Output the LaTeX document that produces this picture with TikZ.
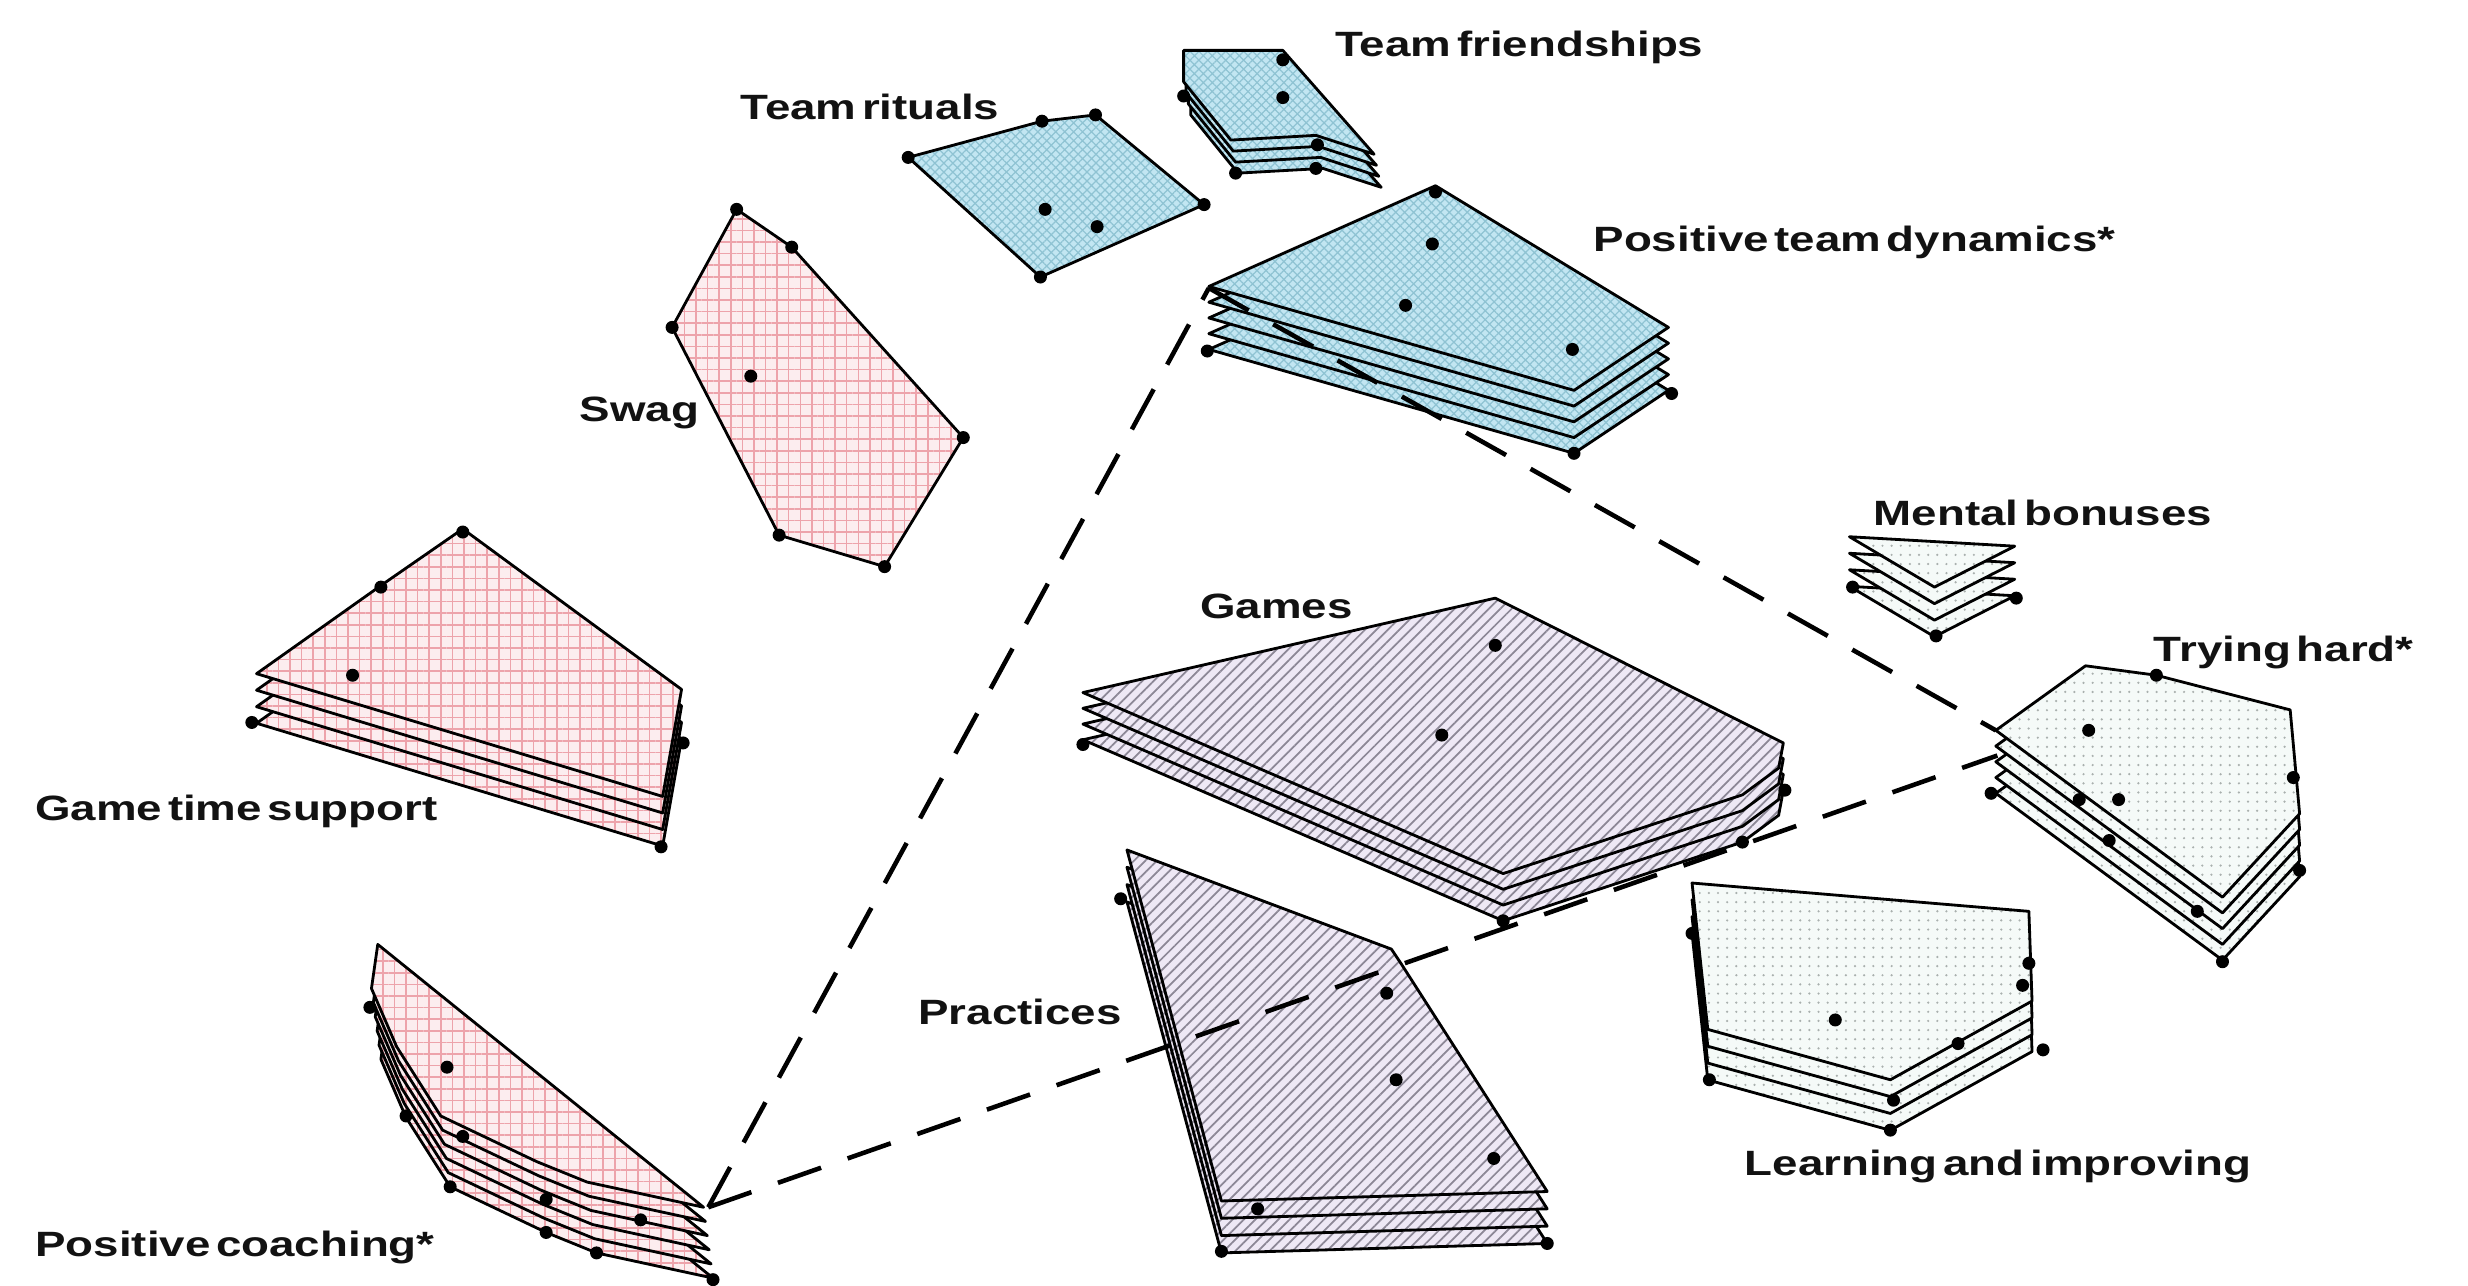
\documentclass[tikz,border=0pt]{standalone}
\usepackage{fontspec}
\newfontfamily\lblfont{Liberation Sans}[FakeStretch=1.3,WordSpace=0.45]
\usetikzlibrary{patterns.meta}
\definecolor{pinkbg}{HTML}{FCEDEF}
\definecolor{pinkln}{HTML}{EDA3AB}
\definecolor{bluebg}{HTML}{C2E6F2}
\definecolor{blueln}{HTML}{8FC3D3}
\definecolor{purpbg}{HTML}{EEE8F5}
\definecolor{purpln}{HTML}{8C8796}
\definecolor{greenbg}{HTML}{F5FAF8}
\definecolor{greenln}{HTML}{A9B0AE}
\newcommand\layerstack[5]{%
  \foreach \k in {#1,...,0}{\path[#4, shift={(\k*#2,\k*#3)}] #5 -- cycle;}}
\newcommand\clusterdots[1]{%
  \foreach \px/\py in {#1}{\fill (\px,\py) circle[radius=0.065cm];}}
\tikzset{
  outl/.style={draw=black, line width=0.8pt, line join=round},
  pinkc/.style={outl, preaction={fill=pinkbg}, pattern={Hatch[angle=0,distance=3.3pt,line width=0.45pt]}, pattern color=pinkln},
  bluec/.style={outl, preaction={fill=bluebg}, pattern={Hatch[angle=45,distance=1.8pt,line width=0.35pt]}, pattern color=blueln},
  purpc/.style={outl, preaction={fill=purpbg}, pattern={Lines[angle=45,distance=2.3pt,line width=0.5pt]}, pattern color=purpln},
  greenc/.style={outl, preaction={fill=greenbg}, pattern={Dots[distance=2.6pt,radius=0.35pt]}, pattern color=greenln},
  lbl/.style={anchor=base west, inner sep=0pt, font=\lblfont\bfseries\fontsize{10}{12}\selectfont, text=black!93},
  link/.style={draw=black, line width=1.3pt, dash pattern=on 13pt off 8pt}
}
\begin{document}
\begin{tikzpicture}[x=0.1574mm, y=-0.1574mm]
\useasboundingbox (0,0) rectangle (1568,817);
\fill[white] (0,0) rectangle (1568,817);

% ---------- Team rituals ----------
\layerstack{0}{0}{0}{bluec}{(577,100) -- (662,77) -- (696,73) -- (765,130) -- (661,176)}
\clusterdots{577/100, 662/77, 696/73, 765/130, 661/176, 664/133, 697/144}

% ---------- Team friendships ----------
\layerstack{3}{1.5}{7}{bluec}{(752,32) -- (815,32) -- (873,98) -- (836,86) -- (782,89) -- (752,52)}
\clusterdots{815/38, 815/62, 837/92, 836/107, 785/110, 752/61}

% ---------- Positive team dynamics ----------
\layerstack{4}{0}{10}{bluec}{(768,182) -- (912,118) -- (1060,208) -- (1000,248)}
\clusterdots{912/122, 910/155, 893/194, 999/222, 1062/250, 1000/288, 767/223}

% ---------- Swag ----------
\layerstack{0}{0}{0}{pinkc}{(468,133) -- (503,157) -- (612,278) -- (562,360) -- (495,340) -- (427,208)}
\clusterdots{468/133, 503/157, 427/208, 477/239, 612/278, 495/340, 562/360}

% ---------- Game time support ----------
\layerstack{3}{0}{10.5}{pinkc}{(163,428) -- (242,372) -- (294,336) -- (433,438) -- (421,506)}
\clusterdots{294/338, 242/373, 224/429, 160/459, 434/472, 420/538}

% ---------- Positive coaching ----------
\layerstack{5}{1.2}{9}{pinkc}{(240,600) -- (447,767) -- (373,751) -- (341,738) -- (280,709) -- (252,665) -- (236,628)}
\clusterdots{235/640, 284/678, 258/709, 294/722, 286/754, 347/762, 347/783, 407/775, 379/796, 453/813}

% ---------- Games ----------
\layerstack{3}{0}{10}{purpc}{(688,440) -- (950,380) -- (1133,472) -- (1130,488) -- (1107,505) -- (955,555)}
\clusterdots{950/410, 916/467, 688/473, 1134/502, 1107/535, 955/585}

% ---------- Practices ----------
\layerstack{3}{0}{11}{purpc}{(716,540) -- (884,603) -- (890,612) -- (983,757) -- (776,763)}
\clusterdots{712/571, 881/631, 887/686, 949/736, 799/768, 776/795, 983/790}

% ---------- Mental bonuses ----------
\layerstack{3}{0}{10.5}{greenc}{(1175,341) -- (1280,347) -- (1229,373)}
\clusterdots{1177/373, 1281/380, 1230/404}

% ---------- Trying hard ----------
\layerstack{4}{0}{10}{greenc}{(1268,464) -- (1325,423) -- (1370,429) -- (1455,451) -- (1461,517) -- (1412,570)}
\clusterdots{1370/429, 1327/464, 1457/494, 1346/508, 1321/508, 1340/534, 1396/579, 1461/553, 1412/611, 1265/504}

% ---------- Learning and improving ----------
\layerstack{3}{0}{10.7}{greenc}{(1075,561) -- (1289,579) -- (1291,636) -- (1201,686) -- (1085,654)}
\clusterdots{1075/593, 1289/612, 1285/626, 1166/648, 1244/663, 1298/667, 1086/686, 1203/699, 1201/718}

% ---------- dashed links ----------
\coordinate (pc) at (450,767);
\coordinate (ptd) at (768,183);
\coordinate (th1) at (1268,464);
\coordinate (th2) at (1269,480);
\draw[link] (pc) -- (ptd);
\draw[link] (ptd) -- (th1);
\draw[link] (pc) -- (th2);

% ---------- labels ----------
\node[lbl] (lTF) at (848,36) {Team friendships};
\node[lbl] (lTR) at (470,76) {Team rituals};
\node[lbl] (lPTD) at (1012,160) {Positive team dynamics*};
\node[lbl] (lSW) at (368,268) {Swag};
\node[lbl] (lMB) at (1190,334) {Mental bonuses};
\node[lbl] (lGA) at (762,393) {Games};
\node[lbl] (lTH) at (1368,420) {Trying hard*};
\node[lbl] (lGTS) at (22,521) {Game time support};
\node[lbl] (lPR) at (583,651) {Practices};
\node[lbl] (lLI) at (1108,747) {Learning and improving};
\node[lbl] (lPC) at (22,798) {Positive coaching*};
\end{tikzpicture}
\end{document}
